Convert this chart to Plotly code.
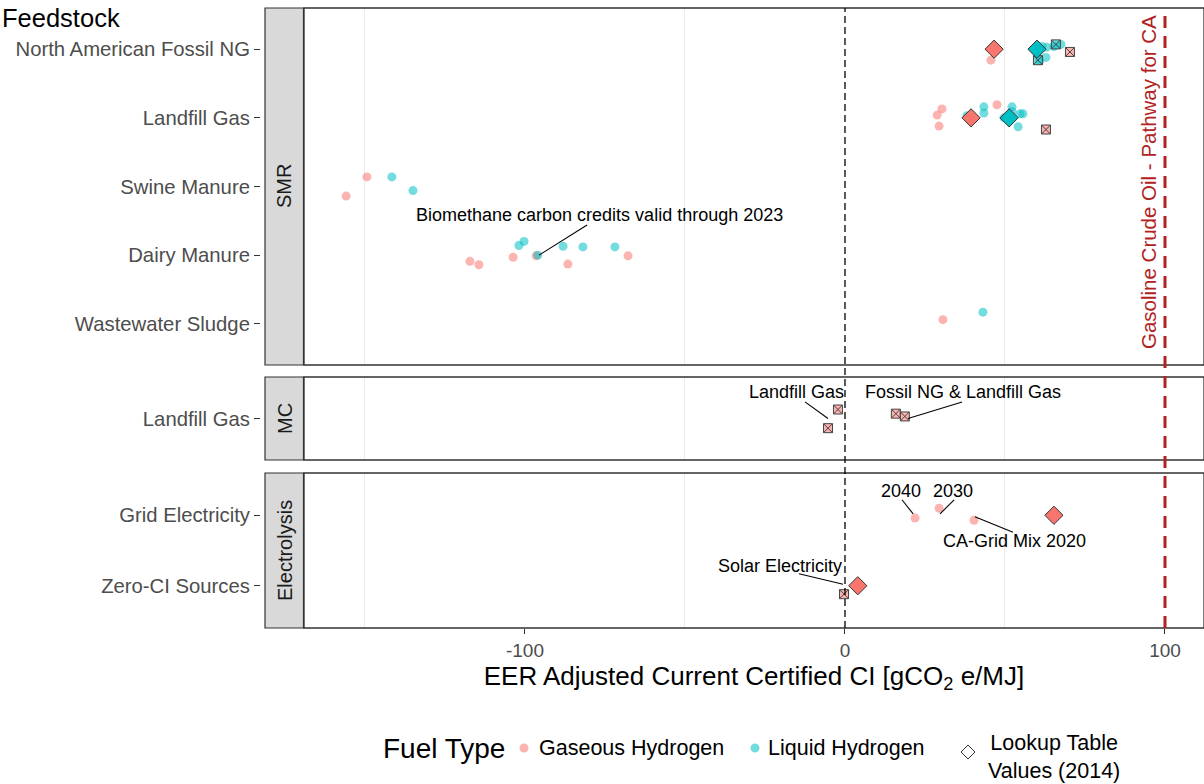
import plotly.graph_objects as go
import pandas as pd

# ---- categories -----------------------------------------------------------
processes = ["SMR", "MC", "Electrolysis"]
feedstocks = {
    "SMR": ["North American Fossil NG", "Landfill Gas", "Swine Manure",
            "Dairy Manure", "Wastewater Sludge"],
    "MC": ["Landfill Gas"],
    "Electrolysis": ["Grid Electricity", "Zero-CI Sources"],
}
x_ticks = [-100, 0, 100]
x_tick_labels = ["-100", "0", "100"]

# ---- certified pathways: gaseous hydrogen ----------------------------------
gas_process = ["SMR"] * 14 + ["Electrolysis"] * 3
gas_feed = (["North American Fossil NG"] + ["Landfill Gas"] * 4 + ["Swine Manure"] * 2
            + ["Dairy Manure"] * 6 + ["Wastewater Sludge"] + ["Grid Electricity"] * 3)
gas_ci = [45.6, 30.3, 28.8, 29.4, 47.5, -149.4, -155.9,
          -117.2, -114.4, -103.7, -96.5, -86.6, -67.8, 30.6, 21.9, 29.4, 40.3]
gas_jitter = [0.16, -0.13, -0.04, 0.12, -0.19, -0.14, 0.14,
              0.09, 0.14, 0.03, 0.01, 0.13, 0.01, -0.06, 0.04, -0.10, 0.07]

# ---- certified pathways: liquid hydrogen -----------------------------------
liq_process = ["SMR"] * 24
liq_feed = (["North American Fossil NG"] * 6 + ["Landfill Gas"] * 9 + ["Swine Manure"] * 2
            + ["Dairy Manure"] * 6 + ["Wastewater Sludge"])
liq_ci = [61.6, 63.1, 62.8, 60.9, 65.3, 67.5,
          38.1, 43.4, 43.4, 52.2, 52.2, 49.7, 54.7, 55.6, 54.1,
          -141.6, -135.0,
          -101.9, -100.3, -96.0, -88.1, -81.9, -71.9,
          43.1]
liq_jitter = [-0.04, -0.03, 0.12, 0.17, -0.04, -0.07,
              -0.03, -0.16, -0.07, -0.16, -0.09, 0.0, -0.06, -0.06, 0.13,
              -0.14, 0.06,
              -0.14, -0.20, 0.0, -0.13, -0.12, -0.12,
              -0.17]

# ---- lookup table values (2014) --------------------------------------------
lut_process = ["SMR", "SMR", "Electrolysis", "Electrolysis", "SMR", "SMR"]
lut_feed = ["North American Fossil NG", "Landfill Gas", "Grid Electricity",
            "Zero-CI Sources", "North American Fossil NG", "Landfill Gas"]
lut_fuel = ["Gaseous Hydrogen"] * 4 + ["Liquid Hydrogen"] * 2
lut_ci = [46.6, 39.4, 65.3, 4.0, 60.0, 51.3]

# ---- other pathway values ---------------------------------------------------
alt_process = ["SMR"] * 4 + ["MC"] * 4 + ["Electrolysis"]
alt_feed = (["North American Fossil NG"] * 3 + ["Landfill Gas"] * 5 + ["Zero-CI Sources"])
alt_fuel = (["Liquid Hydrogen", "Liquid Hydrogen", "Gaseous Hydrogen", "Gaseous Hydrogen"]
            + ["Gaseous Hydrogen"] * 5)
alt_ci = [60.3, 65.9, 70.3, 62.8, -2.2, -5.3, 15.9, 18.7, -0.3]
alt_jitter = [0.16, -0.07, 0.04, 0.17, -0.13, 0.14, -0.07, -0.03, 0.12]

gasoline_ci = 100

# ---- layout constants -------------------------------------------------------
FONT = "Liberation Sans"
COLORS = {"Gaseous Hydrogen": "#F8766D", "Liquid Hydrogen": "#00BFC4"}
AX = {"SMR": ("x", "y"), "MC": ("x2", "y2"), "Electrolysis": ("x3", "y3")}
Y_DOMAIN = {"SMR": [0.4242, 1.0], "MC": [0.2710, 0.4048], "Electrolysis": [0.0, 0.25]}
X_RANGE = [-169.06, 112.19]
ML, PW, MT, PH = 260, 944, 8, 620
X0_DOM = (304 - ML) / PW


def px_x(px):
    return (px - ML) / PW


def px_y(py):
    return (MT + PH - py) / PH


def to_frame(process, feed, ci, jitter=None, fuel=None):
    df = pd.DataFrame({"process": process, "feed": feed, "ci": ci})
    df["jitter"] = jitter if jitter is not None else 0.0
    if fuel is not None:
        df["fuel"] = fuel
    df["ypos"] = [feedstocks[p].index(f) for p, f in zip(df["process"], df["feed"])]
    df["ypos"] = df["ypos"] + df["jitter"]
    return df


gas = to_frame(gas_process, gas_feed, gas_ci, gas_jitter)
liq = to_frame(liq_process, liq_feed, liq_ci, liq_jitter)
lut = to_frame(lut_process, lut_feed, lut_ci, fuel=lut_fuel)
alt = to_frame(alt_process, alt_feed, alt_ci, alt_jitter, fuel=alt_fuel)

fig = go.Figure()

# certified pathway points
for df, fuel in [(gas, "Gaseous Hydrogen"), (liq, "Liquid Hydrogen")]:
    for proc, sub in df.groupby("process"):
        xa, ya = AX[proc]
        fig.add_trace(go.Scatter(
            x=sub["ci"], y=sub["ypos"], xaxis=xa, yaxis=ya, mode="markers",
            name=fuel, showlegend=False,
            marker=dict(size=9, color=COLORS[fuel], opacity=0.55, line=dict(width=0)),
        ))

# other pathway values (square cross)
for (proc, fuel), sub in alt.groupby(["process", "fuel"]):
    xa, ya = AX[proc]
    fig.add_trace(go.Scatter(
        x=sub["ci"], y=sub["ypos"], xaxis=xa, yaxis=ya, mode="markers",
        showlegend=False,
        marker=dict(symbol="square-x", size=9,
                    color="rgba(248,118,109,0.55)" if fuel == "Gaseous Hydrogen"
                    else "rgba(0,191,196,0.55)",
                    line=dict(color="#444444", width=1)),
    ))

# lookup table values (diamonds)
for (proc, fuel), sub in lut.groupby(["process", "fuel"]):
    xa, ya = AX[proc]
    fig.add_trace(go.Scatter(
        x=sub["ci"], y=sub["ypos"], xaxis=xa, yaxis=ya, mode="markers",
        name="Lookup Table Values (2014)", showlegend=False,
        marker=dict(symbol="diamond", size=14, color=COLORS[fuel],
                    line=dict(color="#333333", width=1)),
    ))

# ---- axes -------------------------------------------------------------------
layout_axes = {}
for i, proc in enumerate(processes):
    sfx = "" if i == 0 else str(i + 1)
    n = len(feedstocks[proc])
    bottom = proc == "Electrolysis"
    layout_axes["xaxis" + sfx] = dict(
        domain=[X0_DOM, 1.0], range=X_RANGE, anchor="y" + sfx,
        matches=None if i == 0 else "x",
        showgrid=False, zeroline=False, showline=False,
        tickvals=x_ticks if bottom else [],
        ticktext=x_tick_labels if bottom else [],
        showticklabels=bottom, ticks="outside" if bottom else "",
        ticklen=5, tickcolor="#333333",
        tickfont=dict(family=FONT, size=19, color="#4D4D4D"),
        minor=dict(tickvals=[-150, -50, 50], showgrid=True,
                   gridcolor="#EBEBEB", gridwidth=1),
    )
    layout_axes["yaxis" + sfx] = dict(
        domain=Y_DOMAIN[proc], range=[n - 1 + 0.6, -0.6],
        anchor="free", position=0, showgrid=False, zeroline=False, showline=False,
        tickvals=list(range(n)), ticktext=feedstocks[proc],
        ticks="outside", ticklen=6, tickcolor="#333333",
        tickfont=dict(family=FONT, size=20.3, color="#4D4D4D"),
    )
layout_axes["xaxis3"]["title"] = dict(
    text="EER Adjusted Current Certified CI [gCO<sub>2</sub> e/MJ]",
    font=dict(family=FONT, size=26, color="#000000"), standoff=6)

fig.update_layout(
    width=1204, height=784,
    margin=dict(l=ML, r=0, t=MT, b=784 - MT - PH),
    plot_bgcolor="white", paper_bgcolor="white",
    showlegend=False,
    font=dict(family=FONT),
    **layout_axes,
)

shapes = []
annotations = []


def label(x, y, text, size, color="#000000", xref="paper", yref="paper",
          xanchor="center", angle=0, align="center"):
    annotations.append(dict(xref=xref, yref=yref, x=x, y=y, text=text,
                            xanchor=xanchor, yanchor="middle", textangle=angle,
                            align=align, showarrow=False,
                            font=dict(family=FONT, size=size, color=color)))


# panel borders and facet strips
for proc in processes:
    y0, y1 = Y_DOMAIN[proc]
    shapes.append(dict(type="rect", xref="paper", yref="paper",
                       x0=px_x(265), x1=px_x(303.5), y0=y0, y1=y1,
                       fillcolor="#D9D9D9", line=dict(color="#333333", width=1.2),
                       layer="above"))
    shapes.append(dict(type="rect", xref="paper", yref="paper",
                       x0=X0_DOM, x1=1.0, y0=y0, y1=y1,
                       fillcolor="rgba(0,0,0,0)", line=dict(color="#333333", width=1.3),
                       layer="above"))
    label(px_x(284.5), (y0 + y1) / 2, proc, 20, color="#1A1A1A", angle=-90)

# reference lines
shapes.append(dict(type="line", xref="x", yref="paper", x0=0, x1=0, y0=0, y1=1,
                   line=dict(color="#000000", width=1.3, dash="7px,4px"), layer="above"))
shapes.append(dict(type="line", xref="x", yref="paper", x0=gasoline_ci, x1=gasoline_ci,
                   y0=0, y1=1, line=dict(color="#B22222", width=3, dash="12px,8px"),
                   layer="above"))
label(94.7, px_y(182), "Gasoline Crude Oil - Pathway for CA", 20.5,
      color="#B22222", xref="x", angle=-90)

# labels with leader segments: (text, process, text x, text y, seg start, seg end)
labels = [
    ("Biomethane carbon credits valid through 2023", "SMR", -76.6, 2.42, (-80.6, 2.56), (-95.6, 3.0)),
    ("Landfill Gas", "MC", -15.3, -0.38, (-12.5, -0.24), (-5.3, 0.0)),
    ("Fossil NG &amp; Landfill Gas", "MC", 36.9, -0.38, (36.6, -0.24), (19.7, 0.0)),
    ("2040", "Electrolysis", 17.5, -0.35, (17.8, -0.22), (21.3, -0.02)),
    ("2030", "Electrolysis", 33.8, -0.35, (34.1, -0.22), (29.7, -0.02)),
    ("CA-Grid Mix 2020", "Electrolysis", 53.1, 0.37, (52.5, 0.24), (40.6, 0.02)),
    ("Solar Electricity", "Electrolysis", -20.3, 0.72, (-14.4, 0.83), (-0.6, 0.98)),
]
for text, proc, tx, ty, (sx, sy), (ex, ey) in labels:
    xa, ya = AX[proc]
    label(tx, ty, text, 18, xref=xa, yref=ya)
    shapes.append(dict(type="line", xref=xa, yref=ya, x0=sx, y0=sy, x1=ex, y1=ey,
                       line=dict(color="#000000", width=1.1)))

# "Feedstock" heading
label(px_x(0), px_y(18), "Feedstock", 25.5, xanchor="left")

# legend
LEG_Y = 748
label(px_x(381), px_y(LEG_Y), "Fuel Type", 28, xanchor="left")
for cx, fuel, tx in [(524, "Gaseous Hydrogen", 537), (755, "Liquid Hydrogen", 766)]:
    r = 4.5
    shapes.append(dict(type="circle", xref="paper", yref="paper",
                       x0=px_x(cx - r), x1=px_x(cx + r), y0=px_y(LEG_Y + r), y1=px_y(LEG_Y - r),
                       fillcolor=COLORS[fuel], opacity=0.55, line=dict(width=0)))
    label(px_x(tx), px_y(LEG_Y), fuel, 21.5, xanchor="left")
dx, dy, h = 968, 752, 7
shapes.append(dict(type="path", xref="paper", yref="paper",
                   path=(f"M {px_x(dx - h)},{px_y(dy)} L {px_x(dx)},{px_y(dy - h)} "
                         f"L {px_x(dx + h)},{px_y(dy)} L {px_x(dx)},{px_y(dy + h)} Z"),
                   fillcolor="white", line=dict(color="#333333", width=1)))
label(px_x(1054), px_y(757), "Lookup Table<br>Values (2014)", 21.5)

fig.update_layout(shapes=shapes, annotations=annotations)
fig.write_html("out.html")
